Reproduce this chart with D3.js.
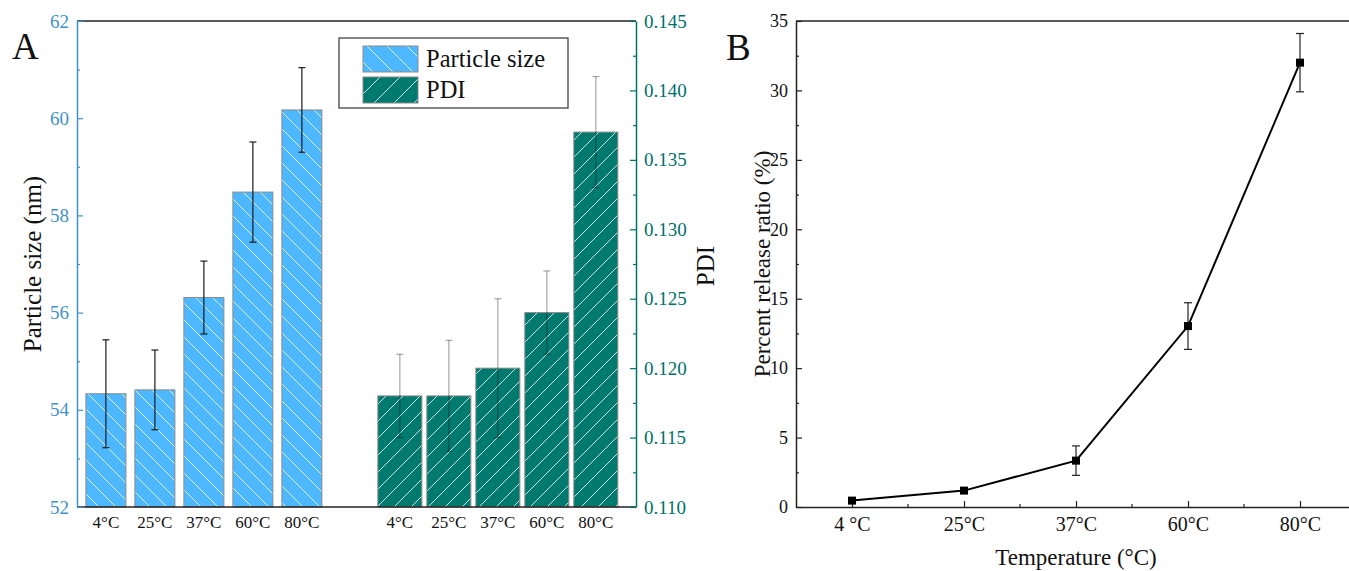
<!DOCTYPE html>
<html>
<head>
<meta charset="utf-8">
<script src="https://cdn.jsdelivr.net/npm/d3@7/dist/d3.min.js"></script>
<style>
  html, body { margin: 0; padding: 0; background: #fff; }
  svg { display: block; }
  svg text { font-family: "Liberation Serif", "Times New Roman", "DejaVu Serif", serif; }
</style>
</head>
<body>
<svg id="chart" width="1349" height="571"></svg>
<script>
// ---- data ----
const temps = ["4°C", "25°C", "37°C", "60°C", "80°C"];
const sizeMean = [54.33, 54.41, 56.31, 58.48, 60.17];
const sizeErr  = [1.11, 0.82, 0.75, 1.03, 0.87];
const pdiMean  = [0.118, 0.118, 0.120, 0.124, 0.137];
const pdiErr   = [0.003, 0.004, 0.005, 0.003, 0.004];
const releaseLabels = ["4 °C", "25°C", "37°C", "60°C", "80°C"];
const releaseMean = [0.46, 1.18, 3.34, 13.03, 32.0];
const releaseErr  = [0.12, 0.15, 1.06, 1.68, 2.1];
const sizeTicks = [52, 54, 56, 58, 60, 62];
const pdiTicks = [0.110, 0.115, 0.120, 0.125, 0.130, 0.135, 0.140, 0.145];
const releaseTicks = [0, 5, 10, 15, 20, 25, 30, 35];

const svg = d3.select("#chart");
const serif = "Liberation Serif, Times New Roman, serif";
const blue = "#4db8ff", blueAxis = "#3f93c9";
const teal = "#00796f", tealAxis = "#00706b";

// ---- hatch patterns ----
const defs = svg.append("defs");
function hatch(id, fill, dir, size) {
  const p = defs.append("pattern").attr("id", id)
    .attr("patternUnits", "userSpaceOnUse").attr("width", size).attr("height", size);
  p.append("rect").attr("width", size).attr("height", size).attr("fill", fill);
  const d = dir === "back"
    ? `M0,0 L${size},${size} M${-size},0 L${size},${2*size} M0,${-size} L${2*size},${size}`
    : `M0,${size} L${size},0 M${-size},${size} L${size},${-size} M0,${2*size} L${2*size},0`;
  p.append("path").attr("d", d).attr("stroke", "#fff").attr("stroke-opacity", 0.8).attr("stroke-width", 1);
}
hatch("hSize", blue, "back", 17);
hatch("hPdi", teal, "fwd", 17);
hatch("hSizeL", blue, "back", 20);
hatch("hPdiL", teal, "fwd", 20);

// ---- panel A ----
const A = { left: 77, right: 636, top: 21, bottom: 507 };
// slot index: particle size bars 0..4, PDI bars 6..10
const xA = d3.scaleLinear().domain([-0.59, 10.82]).range([A.left, A.right]);
const ySize = d3.scaleLinear().domain([52, 62]).range([A.bottom, A.top]);
const yPdi = d3.scaleLinear().domain([0.110, 0.145]).range([A.bottom, A.top]);

const gA = svg.append("g");

// particle size bars
const sizeData = temps.map((t, i) => ({ t, v: sizeMean[i], e: sizeErr[i], k: i }));
const bwS = 40;
gA.selectAll("rect.size").data(sizeData).join("rect")
  .attr("x", d => xA(d.k) - bwS / 2).attr("width", bwS)
  .attr("y", d => ySize(d.v)).attr("height", d => ySize(52) - ySize(d.v))
  .attr("fill", "url(#hSize)").attr("stroke", "#8a8a8a").attr("stroke-width", 1);

// PDI bars
const pdiData = temps.map((t, i) => ({ t, v: pdiMean[i], e: pdiErr[i], k: i + 6 }));
const bwP = 44;
gA.selectAll("rect.pdi").data(pdiData).join("rect")
  .attr("x", d => xA(d.k) - bwP / 2).attr("width", bwP)
  .attr("y", d => yPdi(d.v)).attr("height", d => yPdi(0.110) - yPdi(d.v))
  .attr("fill", "url(#hPdi)").attr("stroke", "#8a8a8a").attr("stroke-width", 1);

// error bars
function errBars(g, data, xf, yf, color, opacity, cap) {
  const e = g.append("g").attr("stroke", color).attr("stroke-opacity", opacity).attr("stroke-width", 1.2).attr("fill", "none");
  data.forEach(d => {
    const x = xf(d), y1 = yf(d.v + d.e), y2 = yf(d.v - d.e);
    e.append("line").attr("x1", x).attr("x2", x).attr("y1", y1).attr("y2", y2);
    e.append("line").attr("x1", x - cap).attr("x2", x + cap).attr("y1", y1).attr("y2", y1);
    e.append("line").attr("x1", x - cap).attr("x2", x + cap).attr("y1", y2).attr("y2", y2);
  });
}
errBars(gA, sizeData, d => xA(d.k), ySize, "#1a1a1a", 1, 3.5);
errBars(gA, pdiData, d => xA(d.k), yPdi, "#000", 0.35, 3.5);

// frame: top and bottom
gA.append("line").attr("x1", A.left).attr("x2", A.right).attr("y1", A.top).attr("y2", A.top)
  .attr("stroke", "#222").attr("stroke-width", 1.5);
gA.append("line").attr("x1", A.left).attr("x2", A.right).attr("y1", A.bottom).attr("y2", A.bottom)
  .attr("stroke", "#222").attr("stroke-width", 1.5);

// left axis (particle size)
const axL = gA.append("g").attr("transform", `translate(${A.left},0)`)
  .call(d3.axisLeft(ySize).tickValues(d3.range(52, 62.01, 1)).tickSizeInner(-6).tickSizeOuter(0)
    .tickFormat(d => sizeTicks.includes(d) ? d : ""));
axL.attr("font-family", serif);
axL.select(".domain").attr("stroke", blueAxis).attr("stroke-width", 1.5);
axL.selectAll(".tick line").attr("stroke", blueAxis).attr("stroke-width", 1.2)
  .attr("x2", d => sizeTicks.includes(d) ? 6 : 3);
axL.selectAll(".tick text").attr("fill", blueAxis).attr("font-size", 19).attr("x", -8);

// right axis (PDI)
const pdiAll = d3.range(0, 15).map(i => +(0.110 + i * 0.0025).toFixed(4));
const isMajorPdi = d => pdiTicks.some(t => Math.abs(t - d) < 1e-6);
const axR = gA.append("g").attr("transform", `translate(${A.right},0)`)
  .call(d3.axisRight(yPdi).tickValues(pdiAll).tickSizeInner(-6).tickSizeOuter(0)
    .tickFormat(d => isMajorPdi(d) ? d3.format(".3f")(d) : ""));
axR.attr("font-family", serif);
axR.select(".domain").attr("stroke", tealAxis).attr("stroke-width", 1.5);
axR.selectAll(".tick line").attr("stroke", tealAxis).attr("stroke-width", 1.2)
  .attr("x2", d => isMajorPdi(d) ? -6 : -3);
axR.selectAll(".tick text").attr("fill", tealAxis).attr("font-size", 19).attr("x", 8);

// category labels under the bars
gA.selectAll("text.cat").data(sizeData.concat(pdiData)).join("text")
  .attr("x", d => xA(d.k)).attr("y", 528).attr("text-anchor", "middle")
  .attr("font-size", 17).attr("fill", "#111").text(d => d.t);

// axis titles
gA.append("text").attr("transform", "translate(41,264) rotate(-90)").attr("text-anchor", "middle")
  .attr("font-size", 25).attr("fill", "#111").text("Particle size (nm)");
gA.append("text").attr("transform", "translate(714,266) rotate(-90)").attr("text-anchor", "middle")
  .attr("font-size", 25).attr("fill", "#111").text("PDI");
gA.append("text").attr("x", 12).attr("y", 59).attr("font-size", 37).attr("fill", "#111").text("A");

// legend
const lg = gA.append("g").attr("transform", "translate(339,38)");
lg.append("rect").attr("width", 229).attr("height", 70).attr("fill", "#fff")
  .attr("stroke", "#333").attr("stroke-width", 1.2);
const legendItems = [{ label: "Particle size", fill: "url(#hSizeL)" }, { label: "PDI", fill: "url(#hPdiL)" }];
legendItems.forEach((it, i) => {
  lg.append("rect").attr("x", 24).attr("y", 8 + i * 31).attr("width", 55).attr("height", 26)
    .attr("fill", it.fill).attr("stroke", "#8a8a8a").attr("stroke-width", 1);
  lg.append("text").attr("x", 87).attr("y", 29 + i * 31).attr("font-size", 24.5).attr("fill", "#111").text(it.label);
});

// ---- panel B ----
const B = { left: 796, right: 1356, top: 21, bottom: 507 };
const xB = d3.scalePoint().domain(releaseLabels).range([B.left, B.right]).padding(0.5);
const yB = d3.scaleLinear().domain([0, 35]).range([B.bottom, B.top]);
const gB = svg.append("g");

gB.append("line").attr("x1", B.left).attr("x2", B.right).attr("y1", B.top).attr("y2", B.top)
  .attr("stroke", "#222").attr("stroke-width", 1.5);

const axBL = gB.append("g").attr("transform", `translate(${B.left},0)`)
  .call(d3.axisLeft(yB).tickValues(d3.range(0, 35.01, 2.5)).tickSizeInner(-6).tickSizeOuter(0)
    .tickFormat(d => releaseTicks.includes(d) ? d : ""));
axBL.attr("font-family", serif);
axBL.select(".domain").attr("stroke", "#222").attr("stroke-width", 1.5);
axBL.selectAll(".tick line").attr("stroke", "#222").attr("stroke-width", 1.2)
  .attr("x2", d => releaseTicks.includes(d) ? 6 : 3);
axBL.selectAll(".tick text").attr("fill", "#111").attr("font-size", 18).attr("x", -8);

// x axis with ticks at categories and between them
const axBB = gB.append("g").attr("transform", `translate(0,${B.bottom})`)
  .call(d3.axisBottom(xB).tickSizeInner(-6).tickSizeOuter(0));
axBB.attr("font-family", serif);
axBB.select(".domain").attr("stroke", "#222").attr("stroke-width", 1.5);
axBB.selectAll(".tick line").attr("stroke", "#222").attr("stroke-width", 1.2);
axBB.selectAll(".tick text").attr("fill", "#111").attr("font-size", 20).attr("y", 10).attr("dy", "0.71em");
const step = xB.step();
gB.selectAll("line.minor").data(releaseLabels.slice(0, -1)).join("line")
  .attr("x1", d => xB(d) + step / 2).attr("x2", d => xB(d) + step / 2)
  .attr("y1", B.bottom).attr("y2", B.bottom - 3).attr("stroke", "#222").attr("stroke-width", 1.2);

const relData = releaseLabels.map((t, i) => ({ t, v: releaseMean[i], e: releaseErr[i] }));
errBars(gB, relData, d => xB(d.t), yB, "#222", 1, 4);
gB.append("path").datum(relData)
  .attr("d", d3.line().x(d => xB(d.t)).y(d => yB(d.v)))
  .attr("fill", "none").attr("stroke", "#000").attr("stroke-width", 2);
gB.selectAll("rect.pt").data(relData).join("rect")
  .attr("x", d => xB(d.t) - 4).attr("y", d => yB(d.v) - 4).attr("width", 8).attr("height", 8).attr("fill", "#000");

gB.append("text").attr("transform", "translate(770,264) rotate(-90)").attr("text-anchor", "middle")
  .attr("font-size", 23).attr("fill", "#111").text("Percent release ratio (%)");
gB.append("text").attr("x", 1076).attr("y", 565).attr("text-anchor", "middle")
  .attr("font-size", 23).attr("fill", "#111").text("Temperature (°C)");
gB.append("text").attr("x", 726).attr("y", 60).attr("font-size", 37).attr("fill", "#111").text("B");
</script>
</body>
</html>
